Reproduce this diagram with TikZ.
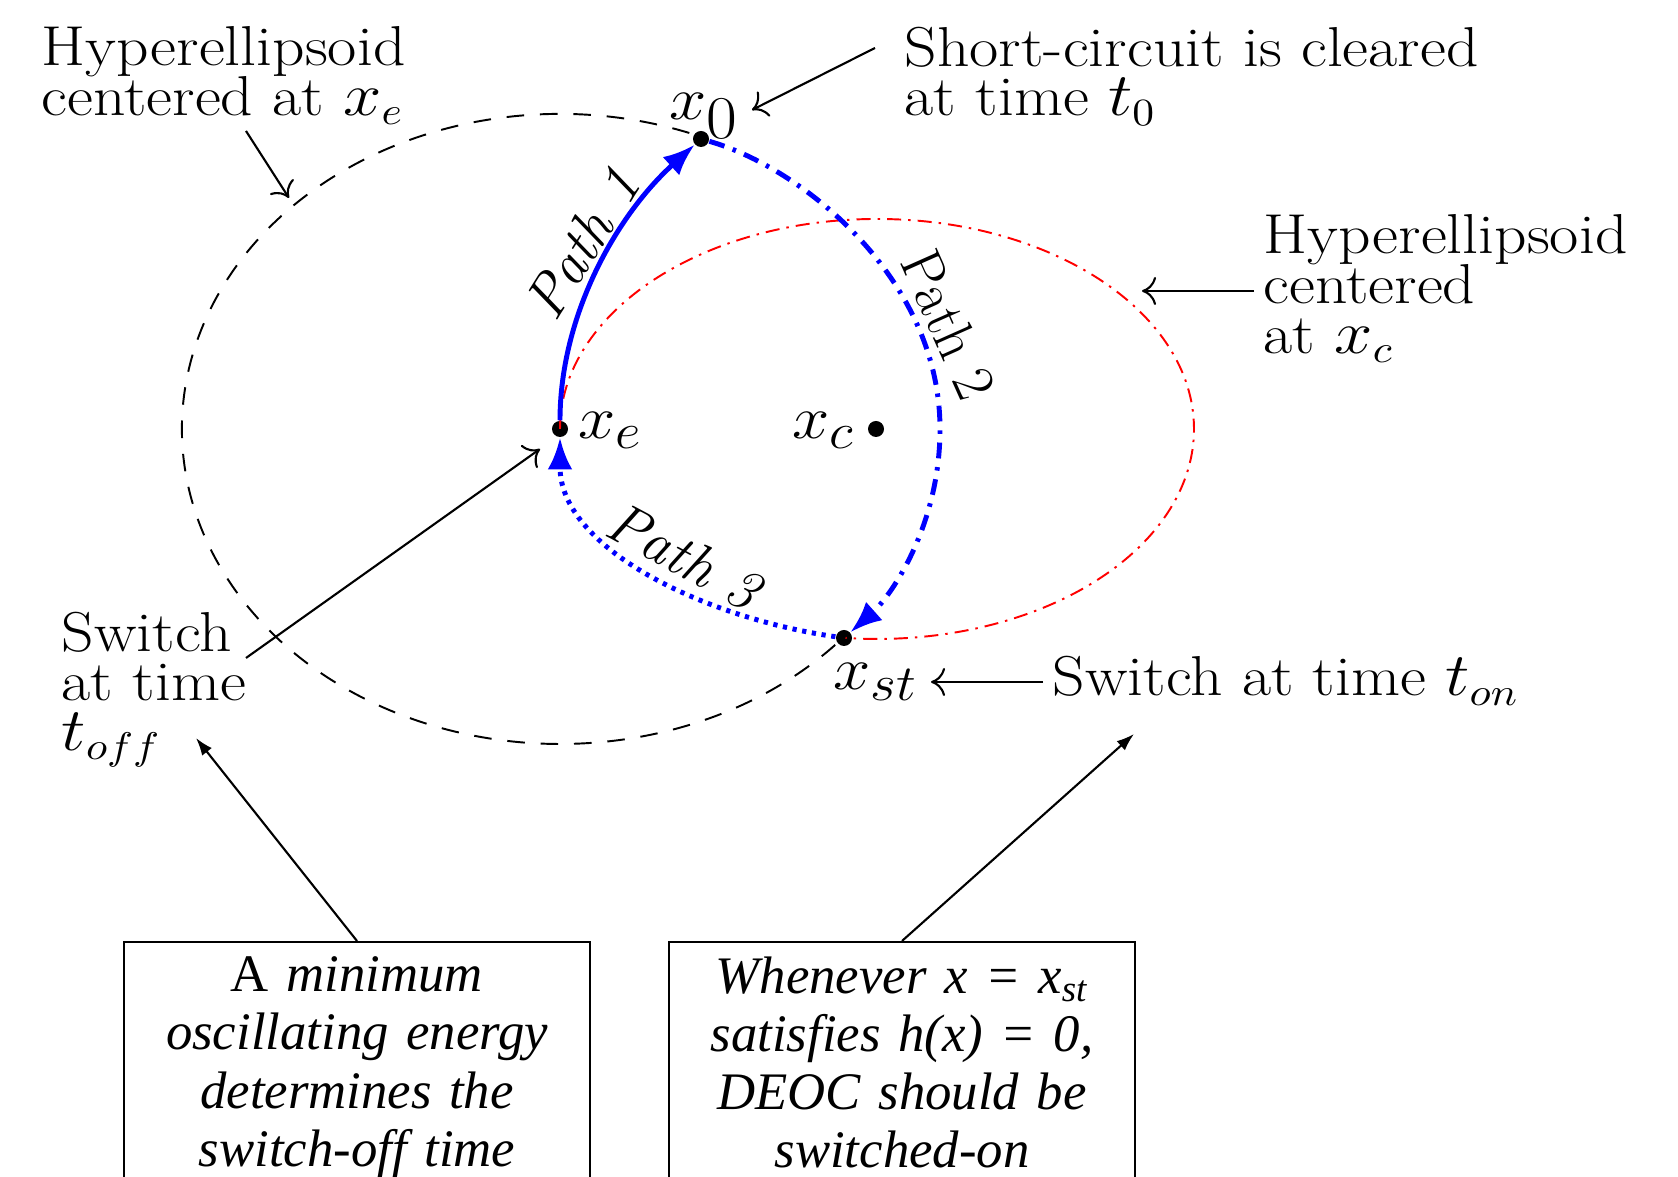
\documentclass[tikz,border=0pt]{standalone}
\usepackage{fontspec}
\newfontfamily\boxfont{Liberation Serif}
\usetikzlibrary{arrows.meta,calc}
\DeclareMathSizes{18}{18}{14}{11}
\newcommand\tightfont{\fontsize{16}{14.2}\selectfont\lineskiplimit-20pt\relax}
\begin{document}
\begin{tikzpicture}[x=0.01cm,y=0.01cm,
  dot/.style={circle,fill=black,inner sep=0pt,minimum size=0.16cm},
  txt/.style={inner sep=0pt,align=left,xscale=1.13,font=\tightfont},
  ptlab/.style={inner sep=0pt,xscale=1.1,font=\fontsize{18}{20}\selectfont},
  pathlab/.style={inner sep=0pt,font=\fontsize{16.5}{18}\selectfont},
  ann/.style={line width=0.6pt,-{Computer Modern Rightarrow[length=4pt,width=8pt]}},
  boxarrow/.style={line width=0.6pt,-{Latex[length=5pt,width=3.5pt]}},
  infobox/.style={draw,line width=0.6pt,inner xsep=0.1cm,inner ysep=0.15cm,text width=4.46cm,align=center,font=\boxfont\itshape\fontsize{15}{16.5}\selectfont},
  blk/.style={line width=0.55pt,dash pattern=on 5pt off 4.5pt},
  redl/.style={red,line width=0.55pt,dash pattern=on 4pt off 2pt on 0.7pt off 2pt},
  tipb/.style={-{Latex[length=9pt,width=7pt]}},
  pone/.style={blue,line width=1.4pt,tipb},
  ptwo/.style={blue,line width=1.4pt,dash pattern=on 4.5pt off 2.5pt on 1pt off 2.5pt,tipb},
  pthree/.style={blue,line width=1.4pt,dash pattern=on 1.2pt off 1.6pt,tipb},
]
\useasboundingbox (0,0) rectangle (1678,1177);
\clip (0,0) rectangle (1678,1177);

% points
\node[dot] (x0) at (701,1038) {};
\node[dot] (xe) at (560,748) {};
\node[dot] (xc) at (876,748) {};
\node[dot] (xst) at (844,539) {};

% hyperellipsoids
\draw[redl] (xe.center) arc[start angle=180,end angle=-95.7,x radius=317,y radius=210];
\draw[blk] (xe.center) ++(70:378 and 315) arc[start angle=70,end angle=318.6,x radius=378,y radius=315];

% paths
\draw[pone] (xe) .. controls (560,860) and (615,960) .. (x0);
\draw[ptwo] (x0) .. controls (800,1010) and (940,900) .. (940,748) .. controls (940,650) and (890,580) .. (xst);
\draw[pthree] (xst) .. controls (700,560) and (560,630) .. (xe);

\node[pathlab,rotate=58] (pl1) at (582,934) {\itshape Path 1};
\node[pathlab,rotate=-66] (pl2) at (949,852) {Path 2};
\node[pathlab,rotate=-28] (pl3) at (684,621) {\itshape Path 3};

% point labels
\node[ptlab,anchor=base west] (x0l) at (669,1057) {$x_{\textstyle 0}$};
\node[ptlab,anchor=base west] (xel) at (578,738) {$x_e$};
\node[ptlab,anchor=base west] (xcl) at (792,738) {$x_c$};
\node[ptlab,anchor=base west] (xstl) at (833,487) {$x_{st}$};

% annotations
\node[txt,anchor=north west] (tl) at (41,1151) {Hyperellipsoid\\centered at $x_e$};
\node[txt,anchor=north west] (sc) at (904,1151) {Short-circuit is cleared\\at time $t_0$};
\node[txt,anchor=north west] (hr) at (1263,963) {Hyperellipsoid\\centered\\at $x_c$};
\node[txt,anchor=base west] (son) at (1052,481) {Switch at time $t_{on}$};
\node[txt,anchor=north west] (soff) at (61,566) {Switch\\at time\\$t_{off}$};

\coordinate (a1s) at (246,1046); \coordinate (a1e) at (289,979);
\coordinate (a2s) at (875,1129); \coordinate (a2e) at (752,1067);
\coordinate (a3s) at (1254,886); \coordinate (a3e) at (1142,886);
\coordinate (a4s) at (1043,495); \coordinate (a4e) at (931,495);
\coordinate (a5s) at (246,519); \coordinate (a5e) at (540,728);
\draw[ann] (a1s) -- (a1e);
\draw[ann] (a2s) -- (a2e);
\draw[ann] (a3s) -- (a3e);
\draw[ann] (a4s) -- (a4e);
\draw[ann] (a5s) -- (a5e);

% boxes
\node[infobox,anchor=north] (lbox) at (357,236) {\textup{A} minimum\\oscillating energy\\determines the\\switch-off time};
\node[infobox,anchor=north] (rbox) at (902,236) {Whenever x = x\textsubscript{st}\\satisfies h(x) = 0,\\DEOC should be\\switched-on};
\coordinate (a6e) at (196,439);
\coordinate (a7e) at (1134,443);
\draw[boxarrow] (lbox.north) -- (a6e);
\draw[boxarrow] (rbox.north) -- (a7e);
\end{tikzpicture}
\end{document}
